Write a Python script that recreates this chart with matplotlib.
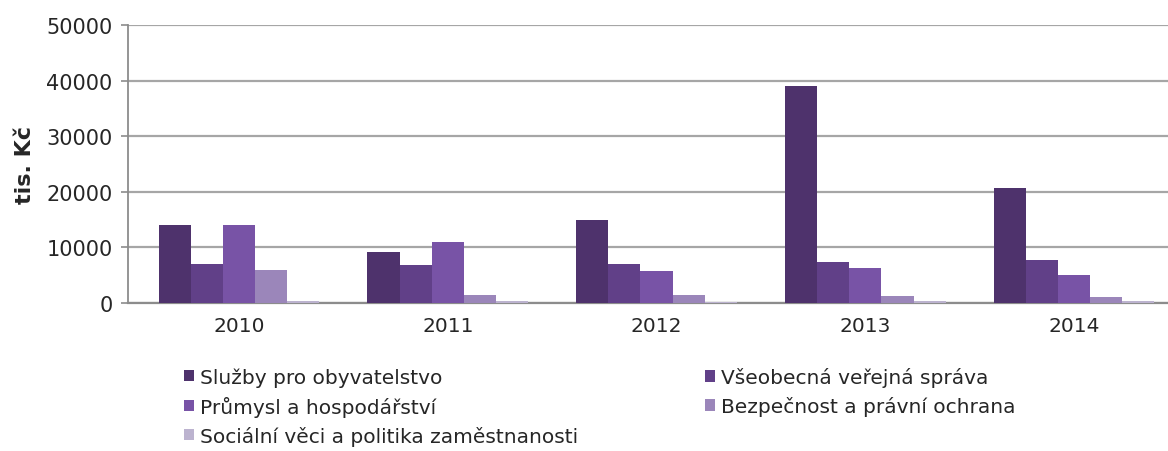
import matplotlib
matplotlib.use("Agg")
import matplotlib.pyplot as plt
import numpy as np
from matplotlib.patches import Patch

# data (tis. Kč)
years = ["2010", "2011", "2012", "2013", "2014"]
series_names = [
    "Služby pro obyvatelstvo",
    "Všeobecná veřejná správa",
    "Průmysl a hospodářství",
    "Bezpečnost a právní ochrana",
    "Sociální věci a politika zaměstnanosti",
]
sluzby = [14000, 9200, 15000, 39000, 20600]
sprava = [7000, 6900, 7100, 7300, 7700]
prumysl = [14100, 11000, 5800, 6300, 5000]
bezpecnost = [5900, 1400, 1400, 1300, 1000]
socialni = [400, 400, 200, 300, 300]

colors = ["#4e326c", "#614088", "#7853a6", "#9b86ba", "#bcb3cf"]

plt.rcParams["font.family"] = ["DejaVu Sans"]

fig = plt.figure(figsize=(11.68, 4.52), dpi=100)
ax = fig.add_axes([128 / 1168, 1 - 304 / 452, 1 - 128 / 1168, (304 - 26) / 452])

x = np.arange(len(years))
width = 0.154
all_series = [sluzby, sprava, prumysl, bezpecnost, socialni]
for i, (vals, col) in enumerate(zip(all_series, colors)):
    ax.bar(x + (i - 2) * width, vals, width, color=col, edgecolor="none", zorder=3)

ax.set_xlim(-0.532, 4.45)
ax.set_ylim(0, 50000)
ax.set_yticks(np.arange(0, 50001, 10000))
ax.set_xticks(x)
ax.set_xticklabels(years)
ax.grid(axis="y", color="#a6a6a6", linewidth=1.6, zorder=0)
ax.tick_params(axis="x", length=0, labelsize=14.5, pad=9, colors="#262626")
ax.tick_params(axis="y", length=5, width=1.2, color="#8c8c8c", labelsize=15,
               pad=6, labelcolor="#262626")
for side in ("top", "right"):
    ax.spines[side].set_visible(False)
ax.spines["left"].set_color("#8c8c8c")
ax.spines["left"].set_linewidth(1.3)
ax.spines["bottom"].set_color("#8c8c8c")
ax.spines["bottom"].set_linewidth(1.6)

fig.text(25 / 1168, 1 - 165 / 452, "tis. Kč", rotation=90, fontsize=16,
         fontweight="bold", ha="center", va="center", color="#262626")

handles = [Patch(facecolor=c, edgecolor="none") for c in colors]
leg_kw = dict(frameon=False, fontsize=14.5, handlelength=0.5, handleheight=0.5,
              handletextpad=0.3, labelspacing=0.45, borderaxespad=0, borderpad=0,
              labelcolor="#262626")
leg1 = fig.legend([handles[0], handles[2], handles[4]],
                  [series_names[0], series_names[2], series_names[4]],
                  loc="upper left", bbox_to_anchor=(184 / 1168, 1 - 368 / 452), **leg_kw)
leg2 = fig.legend([handles[1], handles[3]],
                  [series_names[1], series_names[3]],
                  loc="upper left", bbox_to_anchor=(705 / 1168, 1 - 368 / 452), **leg_kw)

fig.savefig("out.png", dpi=100)
